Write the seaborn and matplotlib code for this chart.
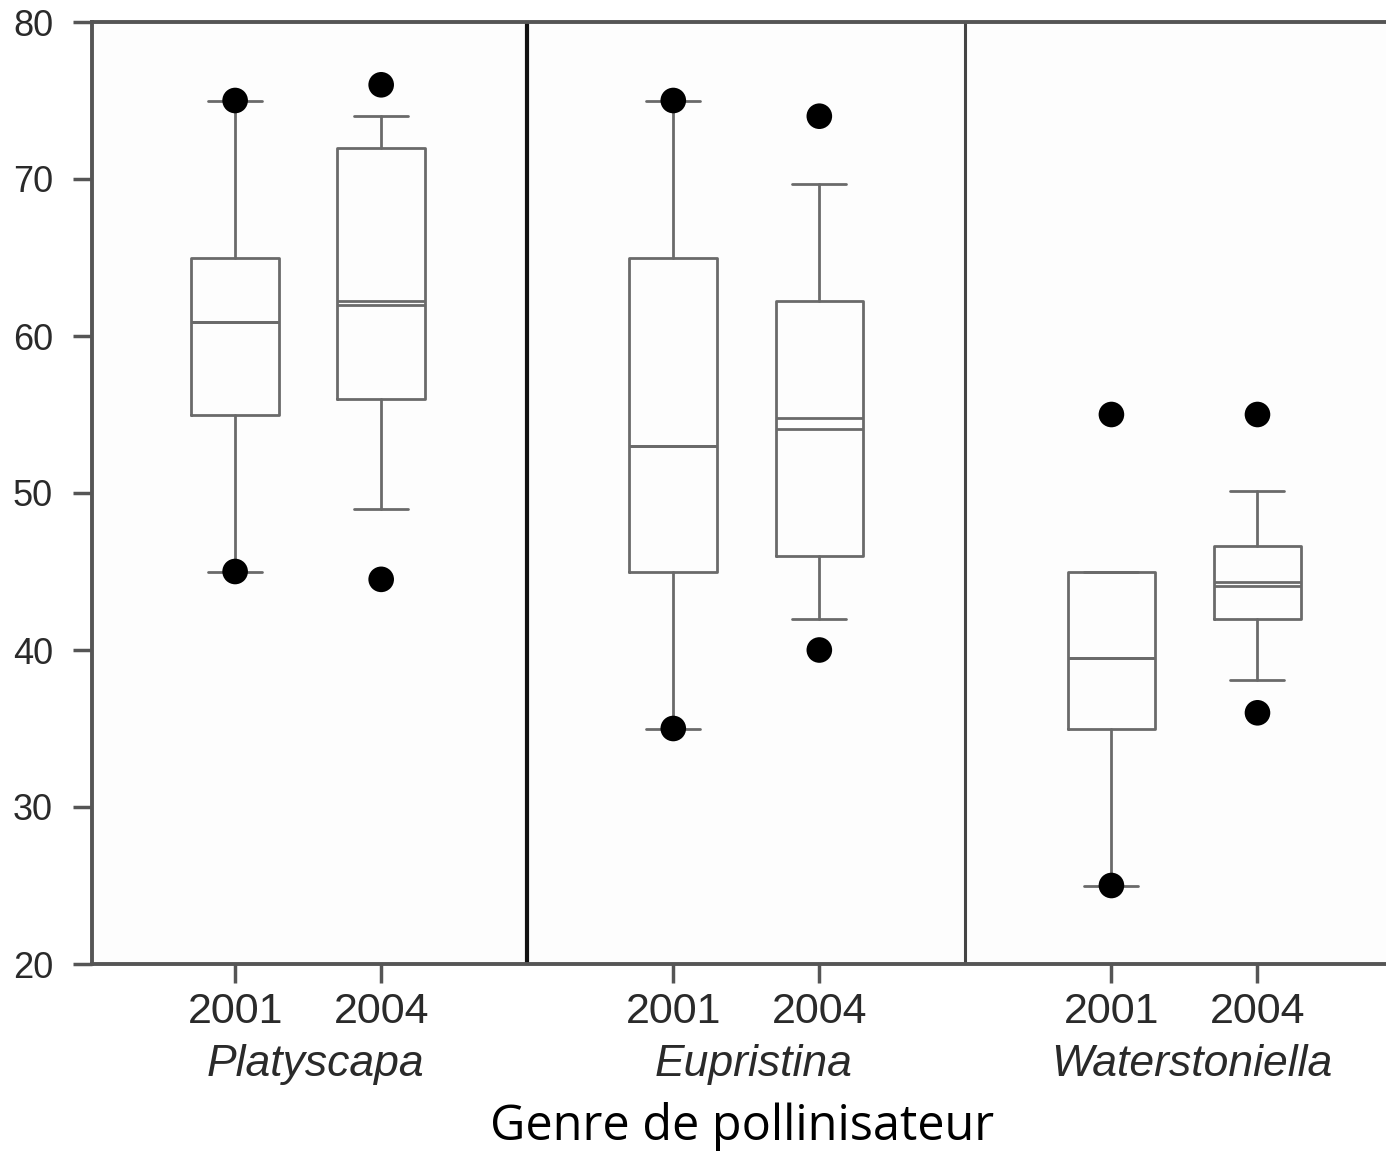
import matplotlib
matplotlib.use("Agg")
import matplotlib.pyplot as plt
import matplotlib.transforms as mtrans
import seaborn as sns
import pandas as pd

# data (box stats per genus / year)
genera = ["Platyscapa", "Eupristina", "Waterstoniella"]
years = ["2001", "2004"]
q1 = [55.0, 56.0, 45.0, 46.0, 35.0, 42.0]
med = [60.9, 62.2, 53.0, 54.8, 39.5, 44.3]
mean = [60.9, 62.0, 53.0, 54.1, 39.5, 44.1]
q3 = [65.0, 72.0, 65.0, 62.2, 45.0, 46.6]
whislo = [45.0, 49.0, 35.0, 42.0, 25.0, 38.1]
whishi = [75.0, 74.0, 75.0, 69.7, 45.0, 50.1]
# outlier points: index of the box they belong to, and value
out_box = [0, 0, 1, 1, 2, 2, 3, 3, 4, 4, 5, 5]
out_val = [75.0, 45.0, 76.0, 44.5, 75.0, 35.0, 74.0, 40.0, 55.0, 25.0, 55.0, 36.0]

positions = [g * 3 + y for g in range(len(genera)) for y in range(len(years))]

sns.set_theme(style="ticks")
plt.rcParams['font.family'] = ['Liberation Sans', 'DejaVu Sans']

fig = plt.figure(figsize=(13.86, 11.51), dpi=100)
ax = fig.add_axes([92 / 1386, 1 - 964 / 1151, 1 - 92 / 1386, (964 - 22) / 1151])
ax.set_facecolor("#fdfdfd")

stats = []
for i in range(len(positions)):
    stats.append(dict(q1=q1[i], med=med[i], mean=mean[i], q3=q3[i],
                      whislo=whislo[i], whishi=whishi[i], fliers=[]))

boxc = "#6a6a6a"
ax.bxp(stats, positions=positions, widths=0.6, showfliers=False,
       showmeans=True, meanline=True, capwidths=0.37,
       boxprops=dict(color=boxc, lw=2),
       whiskerprops=dict(color=boxc, lw=2),
       capprops=dict(color=boxc, lw=2),
       medianprops=dict(color=boxc, lw=2),
       meanprops=dict(color=boxc, lw=2, linestyle="-"))

df = pd.DataFrame({"x": [positions[b] for b in out_box], "y": out_val})
sns.scatterplot(data=df, x="x", y="y", ax=ax, color="black", s=340,
                edgecolor="none", zorder=5, legend=False)

# group separators
ax.axvline(2, color="#111111", lw=3)
ax.axvline(5, color="#444444", lw=2.2)

ax.set_xlim(-0.98, 7.88)
ax.set_ylim(20, 80)
ax.set_yticks(range(20, 81, 10))
ax.set_xticks(positions)
ax.set_xticklabels(years * len(genera), fontsize=31, color="#2a2a2a")
ax.tick_params(axis="y", labelsize=26, labelcolor="#2a2a2a", length=14,
               width=2.5, color="#555555", pad=14)
ax.tick_params(axis="x", length=14, width=2.5, color="#555555", pad=6)
ax.set_xlabel("")
ax.set_ylabel("")

for side in ["left", "bottom", "top"]:
    ax.spines[side].set_color("#555555")
    ax.spines[side].set_linewidth(2.8)
ax.spines["right"].set_visible(False)

trans = mtrans.blended_transform_factory(ax.transData, ax.transAxes)
for g, name in enumerate(genera):
    ax.text(g * 3 + 0.55, -0.107, name, transform=trans, ha="center",
            va="center", fontsize=32, style="italic", color="#2a2a2a")

fig.text(742 / 1386, 1 - 1127 / 1151, "Genre de pollinisateur",
         ha="center", va="center", fontsize=35, color="black",
         family=["Open Sans", "DejaVu Sans"])

plt.savefig("out.png", dpi=100)
plt.close()
